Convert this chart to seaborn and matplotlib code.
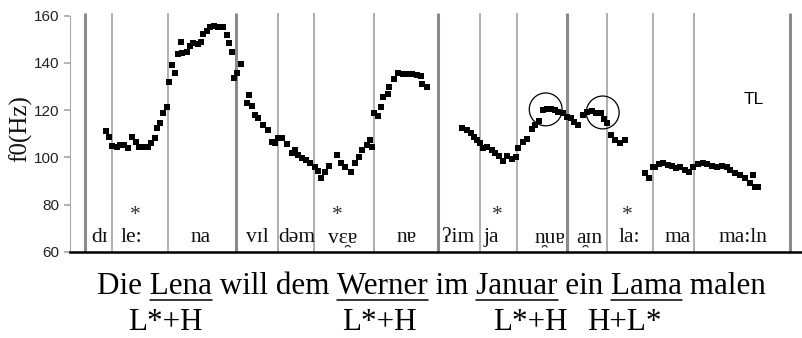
import matplotlib
matplotlib.use("Agg")
import matplotlib.pyplot as plt
import seaborn as sns
import pandas as pd

# f0 track (time in frame units, f0 in Hz)
time = [106, 109, 111.7, 116.7, 120, 124.3, 128.3, 132.3, 135.7, 139.3, 143.3, 147.7,
        151, 155, 156.7, 160, 163.3, 166.7,
        169, 172.3, 175, 177.7, 181, 182.3, 186.7, 190, 193.3, 197.7, 201, 203.3,
        206.7, 210, 214.3, 218.3, 222.7, 226.7, 229.3, 231.7, 234.3, 236.7, 240.7,
        246.7, 249, 251.7, 255, 258.3, 263.3, 267.7, 271.7, 275,
        278.3, 282.3, 286.7, 291.7, 295, 298.3, 301.7, 306, 310, 315, 318.3, 321,
        325, 329.3,
        337.3, 341, 345, 351, 355, 359, 362.3, 366.7, 370, 371.7,
        374.3, 377.7, 380.7, 383.3, 387.7, 389, 394.3, 398.3, 402.7, 407.7, 411.7,
        416.7, 421, 422.3, 426.7,
        461.7, 466.7, 470.7, 474, 476.7, 480, 483.3, 487.3, 491.7, 495, 499.3,
        503.3, 507.3, 511.7, 516,
        518.3, 523.3, 527.3, 531.7, 535, 539.3, 542.7, 546.7, 551, 555, 558.3, 562.7,
        566.7, 570.7, 574.3, 578.3, 582.7, 587.3, 591.7, 596, 600.7, 604, 606.7,
        610.7, 615, 620, 625,
        645, 649, 653.3, 655, 659.3, 663.3, 668.3, 671.7, 676, 680, 685, 689.3, 693.3,
        698.3, 702.7, 706.7, 711.7, 717.3, 721.7, 726.7, 730, 735, 740, 745, 750,
        753.3, 755, 758.3]
f0 = [111.3, 108.8, 104.8, 104.3, 105.2, 105.2, 103.8, 108.5, 106.6, 104.5, 104.5, 104.5,
      106, 108, 112.3, 114.4, 118.6, 121.2,
      132, 139, 135.8, 143.7, 148.9, 144.3, 144.7, 147.1, 148.2, 147.9, 148.9, 152.2,
      153.6, 155.3, 155.6, 155.3, 155, 151.8, 148.2, 144.7, 133.4, 135.8, 139.5,
      122.9, 126.4, 121.7, 117.9, 116.5, 113.7, 111.6, 106.6, 106,
      108.1, 108.1, 105.7, 101.7, 103.1, 101, 99.6, 98.9, 97.5, 96.1, 94.4, 91.2,
      94, 96.4,
      101, 97.5, 96.1, 94, 97.5, 100.3, 103.1, 105.2, 107.4, 104.5,
      118.6, 117.5, 121.4, 125.7, 126.8, 129.9, 133, 135.8, 135.3, 135.3, 135.3,
      134.8, 134.5, 130.9, 129.6,
      112.3, 111.6, 110.2, 108.8, 107.4, 106, 103.8, 104.5, 103.1, 102, 100.6,
      98.6, 100.6, 99.2, 100,
      103.8, 106.6, 107.6, 111.9, 113.7, 115.5, 120, 120.3, 120.3, 120, 119.3, 118.6,
      117.2, 116.5, 115.1, 113.7, 117.9, 119.3, 119.7, 118.6, 118.6, 116.1, 114.7,
      109.5, 107.4, 106.2, 107.4,
      93.5, 91.2, 96.1, 96.1, 97.2, 97.8, 96.8, 96.4, 95.4, 96.1, 94.7, 94, 95.8,
      97.2, 97.8, 97.2, 96.4, 96.1, 96.4, 95.8, 94.7, 93.5, 92.6, 91.2, 89.3,
      92.6, 87.6, 87.6]

# segment boundaries
word_bounds = [85, 236, 438, 567, 790]
syll_bounds = [112, 168, 278, 314, 374, 480, 517, 607, 653, 694]

# syllable labels (the non-syllabic mark is typed before its vowel so that
# matplotlib, which has no mark positioning, draws it under that vowel)
syllables = ["dɪ", "le:", "na", "vɪl", "dəm", "vɛ\u032fɐ", "nɐ", "ʔim", "ja",
             "n\u032fuɐ", "a\u032fɪn", "la:", "ma", "ma:ln"]
syll_pos = [100, 131, 200.5, 257, 296.5, 343, 407, 458.5, 491, 549.7, 589, 629,
            677.5, 743]
stress_pos = [135.7, 337.7, 497.3, 627.3]

# circled peaks
circle_t = [545.7, 602.7]
circle_f = [120.3, 119.0]

sentence = "Die Lena will dem Werner im Januar ein Lama malen"
underlined = ["Lena", "Werner", "Januar", "Lama"]
accents = ["L*+H", "L*+H", "L*+H", "H+L*"]
accent_x = [128, 342, 493, 587]

sns.set_theme(style="white")
serif = ["Liberation Serif", "DejaVu Serif"]
sans = ["Liberation Sans", "DejaVu Sans"]

W, H = 802, 338
fig = plt.figure(figsize=(W / 100, H / 100), dpi=100)
ax = fig.add_axes([70 / W, 86 / H, 732 / W, 239 / H])
ymax = 161.06
ax.set_xlim(70, 802)
ax.set_ylim(60, ymax)

ax.vlines(word_bounds, 60, ymax, color="#8a8a8a", lw=2.2, zorder=1)
ax.vlines(syll_bounds, 60, ymax, color="#9a9a9a", lw=1.1, zorder=1)

df = pd.DataFrame({"time": time, "f0": f0})
sns.scatterplot(data=df, x="time", y="f0", marker="s", s=24, color="black",
                linewidth=0, ax=ax, zorder=3)

ax.scatter(circle_t, circle_f, s=560, facecolors="none", edgecolors="black",
           linewidths=0.9, zorder=4)

for lab, x in zip(syllables, syll_pos):
    ax.text(x, 64.1, lab, ha="center", va="baseline", fontsize=15.5,
            family=serif, color="#111111")
for x in stress_pos:
    ax.text(x, 73.5, "*", ha="center", va="baseline", fontsize=15.5,
            family=serif, color="#333333")
ax.text(754, 124.3, "TL", ha="center", va="center", fontsize=12.5,
        family=sans, color="black")

sns.despine(ax=ax)
ax.spines["left"].set_color("#aaaaaa")
ax.spines["left"].set_linewidth(0.8)
ax.spines["left"].set_bounds(60, 160)
ax.spines["bottom"].set_color("black")
ax.spines["bottom"].set_linewidth(1.8)
ax.set_xticks([])
ax.set_yticks([60, 80, 100, 120, 140, 160])
ax.tick_params(axis="y", direction="out", length=4, color="#aaaaaa", pad=4,
               labelsize=11, labelcolor="#222222", left=True)
for t in ax.get_yticklabels():
    t.set_family(sans)
ax.set_xlabel("")
ax.set_ylabel("f0(Hz)", fontsize=18, family=serif, color="#111111")
ax.yaxis.set_label_coords(-0.052, 0.517)

# sentence with underlined words
renderer = fig.canvas.get_renderer()
fs = 22.4
x0 = 97
fig.text(x0 / W, 44 / H, sentence, fontsize=fs, family=serif, va="baseline",
         ha="left", color="black")


def text_w(s):
    t = fig.text(0, 0, s, fontsize=fs, family=serif)
    w = t.get_window_extent(renderer).width
    t.remove()
    return w


for word in underlined:
    i = sentence.index(word)
    a = x0 + text_w(sentence[:i] + "|") - text_w("|")
    b = x0 + text_w(sentence[:i + len(word)] + "|") - text_w("|")
    fig.add_artist(plt.Line2D([a / W, b / W], [38 / H, 38 / H], color="black",
                              lw=1.1, transform=fig.transFigure))

for lab, x in zip(accents, accent_x):
    fig.text(x / W, 8 / H, lab, fontsize=fs, family=serif, va="baseline",
             ha="left", color="black")

fig.savefig("out.png", dpi=100)
